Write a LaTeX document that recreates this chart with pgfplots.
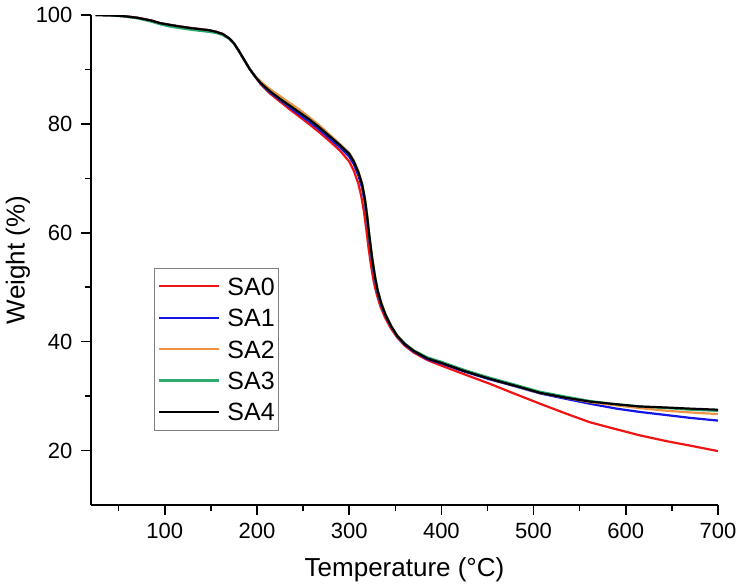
\documentclass[border=0pt]{standalone}
\usepackage{fontspec}
\setmainfont{Liberation Sans}
\usepackage{pgfplots}
\pgfplotsset{compat=1.18}
\usepackage{pgfplotstable}

\definecolor{cred}{RGB}{240,20,20}
\definecolor{cblue}{RGB}{20,20,230}
\definecolor{corange}{RGB}{240,145,70}
\definecolor{cgreen}{RGB}{45,170,110}

\pgfplotstableread{
T W
25 100.0
40 99.95
55 99.8
70 99.5
85 99.0
95 98.5
105 98.2
116 97.9
128 97.6
138 97.4
148 97.2
156 96.9
163 96.5
170 95.7
175 94.8
180 93.5
186 91.8
192 90.1
198 88.7
204 87.3
214 85.6
225 84.1
236 82.6
247 81.2
257 79.9
268 78.4
279 76.8
290 75.1
300 73.1
305 71.4
310 69.0
313 66.8
316 63.9
318.5 60.7
321 57.2
324 53.6
327 50.7
330 48.6
334 46.4
339 44.4
345 42.5
352 40.8
360 39.3
370 38.0
385 36.6
400 35.6
425 34.0
452 32.3
480 30.4
507 28.6
535 26.8
561 25.2
590 23.9
615 22.8
645 21.7
670 20.9
700 19.9
}\tSAzero

\pgfplotstableread{
T W
25 100.0
40 99.95
55 99.8
70 99.5
85 99.0
95 98.5
105 98.2
116 97.9
128 97.6
138 97.4
148 97.2
156 96.9
163 96.5
170 95.7
175 94.8
180 93.5
186 91.8
192 90.1
198 88.7
204 87.4
214 85.8
225 84.4
236 83.0
247 81.6
257 80.4
268 78.9
279 77.3
290 75.7
300 74.0
305 72.6
310 70.5
314 68.3
317 65.5
319.5 62.3
322 58.6
325 54.6
328 51.4
331 48.9
335 46.6
340 44.5
346 42.6
352 41.0
360 39.5
370 38.2
385 36.8
400 36.0
425 34.5
452 33.1
480 31.8
507 30.5
535 29.5
561 28.6
590 27.7
615 27.1
645 26.5
670 26.0
700 25.5
}\tSAone

\pgfplotstableread{
T W
25 100.0
40 99.95
55 99.8
70 99.5
85 99.0
95 98.5
105 98.2
116 97.9
128 97.6
138 97.4
148 97.2
156 96.9
163 96.5
170 95.7
175 94.8
180 93.5
186 91.8
192 90.1
198 88.8
204 87.8
214 86.4
225 85.1
236 83.8
247 82.5
257 81.2
268 79.7
279 78.0
290 76.3
300 74.7
305 73.3
310 71.3
314 69.1
317 66.4
319.5 63.2
322 59.4
325 55.4
328 52.1
331 49.5
335 47.1
340 44.8
346 42.8
352 41.2
360 39.7
370 38.4
385 37.0
400 36.2
425 34.7
452 33.3
480 31.9
507 30.6
535 29.7
561 28.9
590 28.3
615 27.8
645 27.3
670 27.0
700 26.7
}\tSAtwo

\pgfplotstableread{
T W
25 100.0
40 99.95
55 99.75
70 99.4
85 98.8
95 98.3
105 97.9
116 97.6
128 97.3
138 97.1
148 96.9
156 96.7
163 96.3
170 95.6
175 94.8
180 93.5
186 91.8
192 90.1
198 88.7
204 87.5
214 86.0
225 84.6
236 83.3
247 82.0
257 80.8
268 79.3
279 77.7
290 76.1
300 74.5
305 73.1
310 71.1
314 68.9
317 66.2
319.5 63.0
322 59.2
325 55.2
328 51.9
331 49.3
335 46.9
340 44.7
346 42.7
352 41.1
360 39.7
370 38.4
385 37.1
400 36.3
425 34.8
452 33.4
480 32.1
507 30.8
535 29.9
561 29.1
590 28.5
615 28.1
645 27.8
670 27.5
700 27.3
}\tSAthree

\pgfplotstableread{
T W
25 100.0
40 99.95
55 99.8
70 99.5
85 99.0
95 98.5
105 98.2
116 97.9
128 97.6
138 97.4
148 97.2
156 96.9
163 96.5
170 95.7
175 94.8
180 93.5
186 91.8
192 90.1
198 88.7
204 87.5
214 86.0
225 84.6
236 83.3
247 82.0
257 80.8
268 79.3
279 77.7
290 76.1
300 74.5
305 73.1
310 71.1
314 68.9
317 66.2
319.5 63.0
322 59.2
325 55.2
328 51.9
331 49.3
335 46.9
340 44.7
346 42.7
352 41.1
360 39.6
370 38.3
385 36.9
400 36.1
425 34.6
452 33.2
480 31.9
507 30.6
535 29.7
561 29.0
590 28.5
615 28.1
645 27.9
670 27.7
700 27.5
}\tSAfour

\begin{document}
\begin{tikzpicture}
\begin{axis}[
  scale only axis, width=627pt, height=490pt,
  xmin=20, xmax=700, ymin=10, ymax=100,
  axis x line*=bottom, axis y line*=left,
  axis line style={line width=1.5pt, black},
  xtick={100,200,...,700}, minor xtick={50,150,...,650},
  ytick={20,40,...,100}, minor ytick={30,50,70,90},
  tick align=outside, major tick length=10pt, minor tick length=6pt,
  every tick/.style={line width=1.5pt, black},
  ticklabel style={font=\fontsize{22}{26}\selectfont},
  yticklabel style={xshift=-5pt},
  xticklabel style={yshift=-5pt},
  /pgf/number format/assume math mode=true,
  xlabel={Temperature (°C)}, ylabel={Weight (\%)},
  label style={font=\fontsize{26}{30}\selectfont},
  xlabel style={at={(axis description cs:0.5,-0.1469)}, anchor=base},
  ylabel style={at={(axis description cs:-0.1164,0.5)}, anchor=center},
  legend cell align=left,
  legend image code/.code={\draw[#1, line width=2.2pt] (0pt,0pt) -- (60pt,0pt);},
  legend style={at={(rel axis cs:0.1005,0.153)}, anchor=south west,
    draw=gray, inner xsep=4pt, inner ysep=9pt,
    font=\fontsize{25}{30}\selectfont,
    nodes={inner sep=0pt, text height=17.9pt, text depth=0pt},
    row sep=13.5pt, column sep=7pt},
]
\addplot[cred, line width=2.2pt] table[x=T,y=W] {\tSAzero};
\addlegendentry{SA0}
\addplot[cblue, line width=2.2pt] table[x=T,y=W] {\tSAone};
\addlegendentry{SA1}
\addplot[corange, line width=2.2pt] table[x=T,y=W] {\tSAtwo};
\addlegendentry{SA2}
\addplot[cgreen, line width=2.2pt] table[x=T,y=W] {\tSAthree};
\addlegendentry{SA3}
\addplot[black, line width=2.2pt] table[x=T,y=W] {\tSAfour};
\addlegendentry{SA4}
\coordinate (O) at (rel axis cs:0,0);
\end{axis}
\pgfresetboundingbox
\path[use as bounding box] (O) ++(-91pt,-82pt) rectangle ++(741pt,587pt);
\end{tikzpicture}
\end{document}
